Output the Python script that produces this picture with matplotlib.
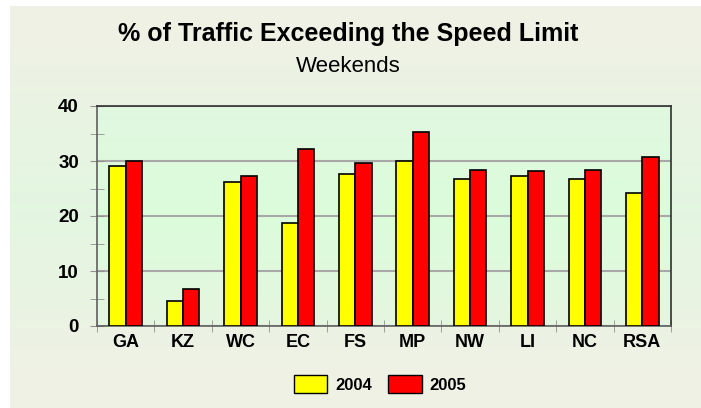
import numpy as np
import matplotlib.pyplot as plt
from matplotlib.patches import Patch

# data
regions = ["GA", "KZ", "WC", "EC", "FS", "MP", "NW", "LI", "NC", "RSA"]
y2004 = [29.1, 4.6, 26.2, 18.7, 27.6, 30.0, 26.7, 27.3, 26.7, 24.1]
y2005 = [30.0, 6.8, 27.2, 32.2, 29.6, 35.3, 28.3, 28.2, 28.3, 30.7]

plt.rcParams['font.family'] = ['Liberation Sans', 'DejaVu Sans']

W, H = 701, 408
fig = plt.figure(figsize=(W / 100, H / 100), dpi=100)
fig.patch.set_facecolor('white')

# outer panel with a soft vertical gradient
bg = fig.add_axes([10 / W, 0, 1 - 10 / W, 1 - 6 / H], zorder=-5)
c_top = np.array([0.945, 0.945, 0.900])
c_mid = np.array([0.890, 0.965, 0.880])
t = np.linspace(0, 1, 200)[:, None]
w = 1 - np.abs(t - 0.5) * 2
grad = c_top * (1 - w) + c_mid * w
bg.imshow(grad[:, None, :], aspect='auto', extent=[0, 1, 0, 1])
bg.axis('off')

# plot area
ax = fig.add_axes([97 / W, (H - 326) / H, (671 - 97) / W, (326 - 106) / H])
ax.set_facecolor('none')
p_top = np.array([0.880, 0.970, 0.880])
p_mid = np.array([0.860, 0.990, 0.860])
p_bot = np.array([0.900, 0.965, 0.880])
u = np.linspace(0, 1, 200)[:, None]
pgrad = np.where(u < 0.5, p_top * (1 - 2 * u) + p_mid * 2 * u,
                 p_mid * (2 - 2 * u) + p_bot * (2 * u - 1))
ax.imshow(pgrad[:, None, :], aspect='auto', extent=[-0.5, len(regions) - 0.5, 0, 40],
          zorder=0)

x = np.arange(len(regions))
bw = 0.285
ax.bar(x - bw / 2, y2004, bw, color='#ffff00', edgecolor='black', linewidth=1.2, zorder=3)
ax.bar(x + bw / 2, y2005, bw, color='#ff0000', edgecolor='black', linewidth=1.2, zorder=3)

ax.set_xlim(-0.5, len(regions) - 0.5)
ax.set_ylim(0, 40)
ax.set_yticks([0, 10, 20, 30, 40])
ax.set_yticks(np.arange(5, 40, 10), minor=True)
ax.set_xticks(x)
ax.set_xticks(np.arange(-0.5, len(regions), 1), minor=True)
ax.set_xticklabels(regions, fontsize=13, fontweight='bold')
ax.set_yticklabels([0, 10, 20, 30, 40], fontsize=13.5, fontweight='bold')
ax.tick_params(axis='x', which='major', length=0, pad=6)
ax.tick_params(axis='x', which='minor', direction='inout', length=9, color='#909090')
ax.tick_params(axis='y', which='both', direction='inout', length=10, color='#909090', pad=8)
ax.yaxis.grid(True, which='major', color='#a8a8a8', linewidth=1.5, zorder=1)
ax.set_axisbelow(True)

for side in ['left', 'bottom']:
    ax.spines[side].set_color('#606060')
    ax.spines[side].set_linewidth(1.2)
for side in ['top', 'right']:
    ax.spines[side].set_color('#303030')
    ax.spines[side].set_linewidth(1.2)

fig.text(348 / W, 1 - 34 / H, "% of Traffic Exceeding the Speed Limit",
         ha='center', va='center', fontsize=18, fontweight='bold')
fig.text(348 / W, 1 - 67 / H, "Weekends", ha='center', va='center', fontsize=16)

handles = [Patch(facecolor='#ffff00', edgecolor='black', label='2004'),
           Patch(facecolor='#ff0000', edgecolor='black', label='2005')]
leg = fig.legend(handles=handles, loc='center', bbox_to_anchor=(380 / W, 1 - 384 / H),
                 ncol=2, frameon=False, handlelength=2.0, handleheight=1.2,
                 columnspacing=1.0, handletextpad=0.45,
                 prop={'weight': 'bold', 'size': 12})

fig.savefig('out.png', dpi=100)
